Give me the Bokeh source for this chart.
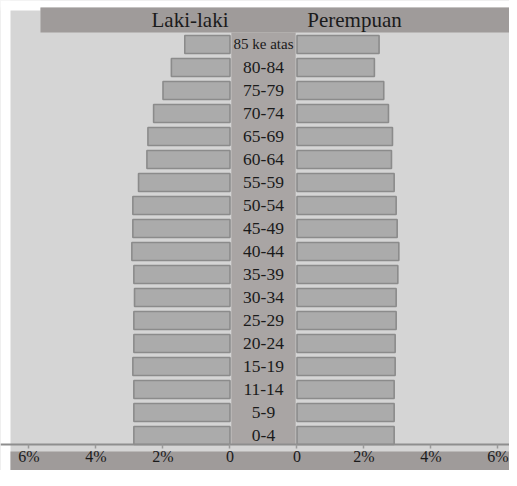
from bokeh.plotting import figure
from bokeh.models import (ColumnDataSource, Range1d, LinearAxis, FixedTicker,
                          BoxAnnotation, Label)
from bokeh.core.properties import value
from bokeh.embed import file_html
from bokeh.resources import INLINE

# ---- data (percent of population), bottom to top ----
age_groups = ["0-4", "5-9", "11-14", "15-19", "20-24", "25-29", "30-34",
              "35-39", "40-44", "45-49", "50-54", "55-59", "60-64",
              "65-69", "70-74", "75-79", "80-84", "85 ke atas"]
male_pct = [2.87, 2.87, 2.87, 2.9, 2.87, 2.87, 2.85, 2.87, 2.93, 2.9,
            2.9, 2.73, 2.48, 2.45, 2.28, 2.0, 1.75, 1.35]
female_pct = [2.9, 2.9, 2.9, 2.93, 2.93, 2.96, 2.96, 3.01, 3.04, 2.99,
              2.96, 2.9, 2.82, 2.85, 2.73, 2.59, 2.31, 2.45]
tick_values = [6, 4, 2, 0]
tick_texts = ["6%", "4%", "2%", "0"]
title_left = "Laki-laki"
title_right = "Perempuan"

# ---- layout constants ----
FONT = "Liberation Serif"
G = 1.0              # half of the central gap, in percent units
BAR_H = 0.78
BG = "#d5d5d5"
BAND = "#9f9b9a"
COLUMN = "#a9a5a4"

rows = list(range(len(age_groups)))
src = ColumnDataSource(dict(
    y=rows,
    label=age_groups,
    size=["15px" if len(a) > 6 else "17.5px" for a in age_groups],
    m_left=[-(G + v) for v in male_pct],
    m_right=[-G] * len(rows),
    f_left=[G] * len(rows),
    f_right=[G + v for v in female_pct],
    mid=[0.0] * len(rows),
))

p = figure(width=509, height=470,
           x_range=Range1d(-7.8507, 7.3433), y_range=Range1d(-1.5217, 18.913),
           x_axis_type=None, y_axis_type=None, min_border=0,
           toolbar_location=None, output_backend="svg",
           background_fill_color=BG, border_fill_color=BG,
           outline_line_color=None)

# decorative areas (white paper edge, header band, centre column, footer band)
def box(**kw):
    p.add_layout(BoxAnnotation(fill_alpha=1, line_color=None,
                               level="underlay", **kw))

box(bottom=18.609, fill_color="white")
box(right=-6.657, bottom=18.478, fill_color="white")
box(right=-7.552, fill_color="white")
box(left=-6.657, bottom=17.522, top=18.609, fill_color=BAND)
box(left=-0.96, right=0.96, bottom=-0.391, top=17.522, fill_color=COLUMN)
box(left=-7.552, top=-0.696, fill_color=BAND)

# bars
p.hbar(y="y", left="m_left", right="m_right", height=BAR_H, source=src,
       fill_color="#ababab", line_color="#8b8b8b", line_width=1.6)
p.hbar(y="y", left="f_left", right="f_right", height=BAR_H, source=src,
       fill_color="#ababab", line_color="#8b8b8b", line_width=1.6)

# age labels
p.text(x="mid", y="y", text="label", source=src, text_font=value(FONT),
       text_font_size="size", text_align="center", text_baseline="middle",
       text_color="#1a1a1a")

# header titles
p.add_layout(Label(x=-2.194, y=18.065, text=title_left, text_font=FONT,
                   text_font_size="21px", text_align="center",
                   text_baseline="middle", text_color="#1a1a1a"))
p.add_layout(Label(x=2.716, y=18.065, text=title_right, text_font=FONT,
                   text_font_size="21px", text_align="center",
                   text_baseline="middle", text_color="#1a1a1a"))

# x axis with mirrored ticks
ticks = [-(G + t) for t in tick_values] + [G + t for t in reversed(tick_values)]
labels = tick_texts + list(reversed(tick_texts))
ax = LinearAxis(fixed_location=-0.391, ticker=FixedTicker(ticks=ticks),
                major_label_overrides={t: l for t, l in zip(ticks, labels)})
ax.axis_line_color = "#8e8e8e"
ax.axis_line_width = 2
ax.major_tick_line_color = "#9a9a9a"
ax.major_tick_line_width = 1.5
ax.major_tick_in = 0
ax.major_tick_out = 4
ax.minor_tick_line_color = None
ax.major_label_standoff = 0
ax.major_label_text_font = FONT
ax.major_label_text_font_size = "16px"
ax.major_label_text_color = "#1a1a1a"
p.add_layout(ax, "below")

open("out.html", "w").write(file_html(p, INLINE))
